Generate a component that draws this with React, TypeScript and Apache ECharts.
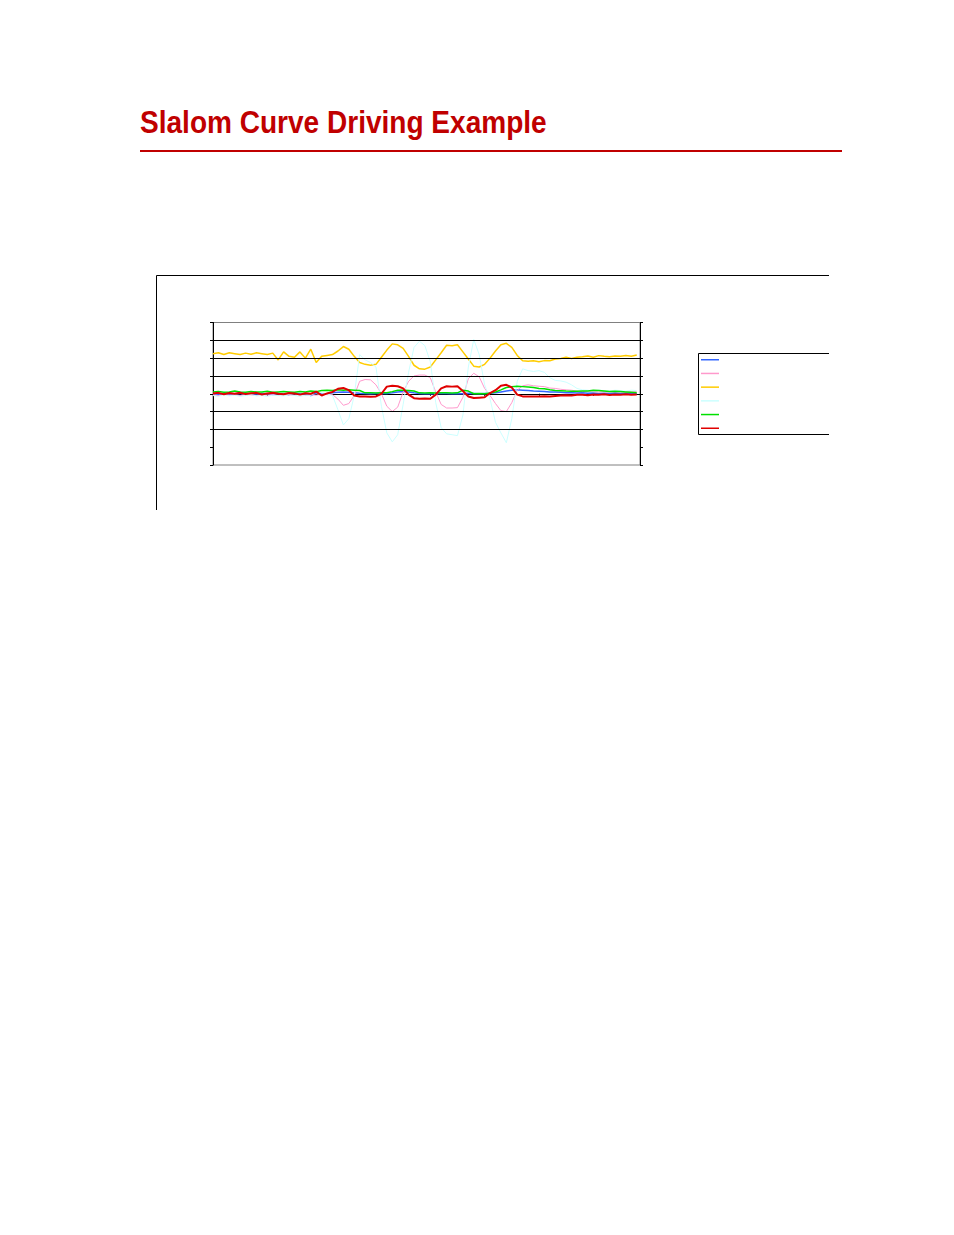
import React, { useEffect, useRef } from 'react';
import * as echarts from 'echarts';

// sample times (s), one every 0.5 s
const TIMES = [
    0, 0.5, 1, 1.5, 2, 2.5, 3, 3.5, 4, 4.5, 5, 5.5, 6, 6.5, 7, 7.5, 8, 8.5, 9, 9.5,
    10, 10.5, 11, 11.5, 12, 12.5, 13, 13.5, 14, 14.5, 15, 15.5, 16, 16.5, 17, 17.5, 18, 18.5, 19, 19.5,
    20, 20.5, 21, 21.5, 22, 22.5, 23, 23.5, 24, 24.5, 25, 25.5, 26, 26.5, 27, 27.5, 28, 28.5, 29, 29.5,
    30, 30.5, 31, 31.5, 32, 32.5, 33, 33.5, 34, 34.5, 35, 35.5, 36, 36.5, 37, 37.5, 38, 38.5, 39
];

const BLUE = [
    0.0, -0.05, 0.02, -0.03, 0.0, 0.03, -0.05, 0.0, -0.02, 0.02, 0.0, -0.04, 0.02, 0.0, -0.05, 0.03, 0.0, -0.02, -0.1, 0.05, 0.0,
    0.02, 0.05, 0.08, 0.1, 0.08, 0.05, 0.03, 0.02, 0.0, 0.02, 0.03, 0.02,
    0.05, 0.1, 0.12, 0.1, 0.05,
    0.02, 0.0, 0.02, 0.0, 0.03, 0.02, 0.0, 0.02, 0.0, 0.03, 0.02, 0.0, 0.02, 0.03, 0.05,
    0.1, 0.15, 0.2, 0.22, 0.2, 0.18, 0.15, 0.14, 0.12, 0.1, 0.1, 0.08,
    0.06, 0.05, 0.04, 0.05, 0.03, 0.04, 0.02, 0.03, 0.02, 0.04, 0.02, 0.03, 0.02, 0.0
];

const PINK = [
    -0.05, -0.1, -0.02, -0.08, -0.05, -0.1, -0.03, -0.06, -0.1, -0.04, -0.08, -0.05, -0.1, -0.02, -0.06, -0.08, -0.04, -0.1, -0.05, -0.08, -0.02, -0.05,
    -0.05, -0.3, -0.65, -0.55, -0.1, 0.7, 0.8, 0.78, 0.5, 0.0, -0.7, -1.0, -0.75, 0.1, 0.7, 1.0, 1.05, 1.05, 0.9, 0.1,
    -0.6, -0.8, -0.8, -0.78, -0.2, 0.85, 1.15, 0.95, 0.3, -0.1, -0.55, -0.95, -1.0, -0.5, 0.2, 0.45, 0.5, 0.45, 0.42, 0.4,
    0.32, 0.3, 0.25, 0.22, 0.2, 0.15, 0.12, 0.15, 0.12, 0.1, 0.12, 0.1, 0.12, 0.1, 0.12, 0.1, 0.12
];

const YELLOW = [
    2.25, 2.3, 2.2, 2.3, 2.25, 2.2, 2.28, 2.22, 2.3, 2.25, 2.2, 2.28,
    1.9, 2.35, 2.1, 2.05, 2.35, 2.0, 2.5, 1.75, 2.1, 2.15, 2.2, 2.4, 2.65,
    2.5, 2.1, 1.75, 1.65, 1.6, 1.65, 2.05, 2.45, 2.8, 2.75, 2.55, 2.1, 1.6, 1.4, 1.38, 1.5, 1.9, 2.3, 2.72, 2.7,
    2.75, 2.35, 1.95, 1.55, 1.5, 1.65, 2.0, 2.4, 2.75, 2.83, 2.6, 2.15, 1.85, 1.82, 1.85, 1.8, 1.86, 1.85, 1.95, 1.98,
    2.05, 1.98, 2.05, 2.08, 2.12, 2.05, 2.14, 2.1, 2.08, 2.12, 2.1, 2.15, 2.1, 2.17
];

const CYAN = [
    -0.1, -0.15, -0.05, -0.12, -0.08, -0.15, -0.1, -0.05, -0.12, -0.1, -0.15, -0.08, -0.1, -0.12, -0.05, -0.1, -0.15, -0.08, -0.1, 0.15, 0.05, 0.0,
    -0.1, -0.9, -1.75, -1.4, -0.1, 2.2, 1.9, 1.75, 1.5, -0.7, -2.2, -2.7, -2.3, -0.6, 1.2, 2.6, 2.95, 2.7, 1.8, -0.5,
    -1.9, -2.25, -2.3, -2.35, -1.2, 1.5, 3.05, 2.2, 0.5, -0.3, -1.6, -2.2, -2.75, -1.4, 0.7, 1.4, 1.3, 1.25, 1.3, 1.2,
    0.9, 0.75, 0.72, 0.65, 0.5, 0.3, 0.22, 0.2, 0.15, 0.2, 0.18, 0.15, 0.2, 0.18, 0.15, 0.2, 0.18
];

const GREEN = [
    0.1, 0.12, 0.08, 0.1, 0.15, 0.1, 0.08, 0.12, 0.1, 0.1, 0.14, 0.08, 0.1, 0.12, 0.1, 0.08, 0.12, 0.1, 0.15, 0.12, 0.18,
    0.2, 0.18, 0.22, 0.2, 0.22, 0.2, 0.18, 0.05, 0.05, 0.04, 0.05, 0.06, 0.12, 0.2, 0.2, 0.18, 0.15, 0.05, 0.04, 0.05,
    0.04, 0.06, 0.05, 0.04, 0.05, 0.2, 0.15, 0.0, 0.02, 0.0, 0.04, 0.1, 0.22, 0.35, 0.4, 0.42, 0.4, 0.38, 0.35, 0.3,
    0.28, 0.22, 0.18, 0.17, 0.15, 0.14, 0.14, 0.15, 0.16, 0.2, 0.18, 0.15, 0.12, 0.14, 0.12, 0.1, 0.08, 0.06
];

const RED = [
    0.02, 0.05, -0.03, 0.04, 0.0, 0.06, -0.02, 0.03, 0.05, -0.04, 0.02, 0.06, 0.0, -0.03, 0.04, 0.02, -0.05, 0.03, 0.0, 0.12, -0.1,
    0.02, 0.1, 0.28, 0.32, 0.2, -0.1, -0.15, -0.15, -0.17, -0.15, 0.0, 0.4, 0.45, 0.42, 0.3, -0.05, -0.25, -0.28, -0.26, -0.28,
    -0.05, 0.3, 0.42, 0.4, 0.42, 0.15, -0.15, -0.24, -0.22, -0.2, 0.04, 0.2, 0.45, 0.5, 0.35, -0.05, -0.15, -0.15, -0.16, -0.15,
    -0.14, -0.15, -0.12, -0.1, -0.08, -0.1, -0.06, -0.05, -0.08, -0.04, -0.06, -0.03, -0.07, -0.04, -0.05, -0.03, -0.06, -0.04
];

const SERIES_NAMES = ['Series 1', 'Series 2', 'Series 3', 'Series 4', 'Series 5', 'Series 6'];
const SERIES_VALUES = [BLUE, PINK, YELLOW, CYAN, GREEN, RED];
const SERIES_COLORS = ['#3366FF', '#FF99CC', '#FFCC00', '#CCFFFF', '#00E000', '#E00000'];
const SERIES_WIDTHS = [1.5, 1, 1.5, 1, 1.5, 2];

// horizontal gridlines drawn in the plot (no line at -3 in the original)
const GRID_VALUES = [3, 2, 1, -1, -2];

const TITLE = 'Slalom Curve Driving Example';

const App: React.FC = () => {
    const chartRef = useRef<HTMLDivElement | null>(null);

    useEffect(() => {
        if (!chartRef.current) return;

        const chart = echarts.init(chartRef.current, null, { renderer: 'svg' });

        const yAxisBase = {
            type: 'value',
            min: -4,
            max: 4,
            interval: 1,
            axisLine: { show: true, onZero: false, lineStyle: { color: '#000', width: 1 } },
            axisTick: { show: true, length: 3, lineStyle: { color: '#000', width: 1 } },
            axisLabel: { show: false },
            splitLine: { show: false }
        };

        const series = SERIES_VALUES.map((values, i) => ({
            name: SERIES_NAMES[i],
            type: 'line',
            yAxisIndex: 0,
            data: TIMES.map((t, j) => [t, values[j]]),
            symbol: 'none',
            lineStyle: { color: SERIES_COLORS[i], width: SERIES_WIDTHS[i] },
            itemStyle: { color: SERIES_COLORS[i] },
            markLine: i === 0 ? {
                silent: true,
                symbol: ['none', 'none'],
                label: { show: false },
                lineStyle: { color: '#000', width: 1, type: 'solid' },
                data: GRID_VALUES.map(v => ({ yAxis: v }))
            } : undefined
        }));

        const option = {
            animation: false,
            backgroundColor: '#fff',
            legend: {
                orient: 'vertical',
                left: 701,
                top: 359,
                padding: 0,
                icon: 'rect',
                itemWidth: 18,
                itemHeight: 1.5,
                itemGap: 12.2,
                formatter: () => '',
                textStyle: { fontSize: 1, lineHeight: 1 },
                data: SERIES_NAMES
            },
            grid: {
                left: 213,
                top: 322.5,
                width: 427,
                height: 142.5,
                show: true,
                borderColor: '#808080',
                borderWidth: 1
            },
            xAxis: {
                type: 'value',
                min: 0,
                max: 39.3,
                interval: 5,
                axisLine: { show: true, onZero: true, lineStyle: { color: '#000', width: 1 } },
                axisTick: { show: true, length: 2, lineStyle: { color: '#000', width: 1 } },
                axisLabel: { show: false },
                splitLine: { show: false }
            },
            yAxis: [
                { ...yAxisBase, position: 'left' },
                { ...yAxisBase, position: 'right' }
            ],
            graphic: [
                {
                    type: 'text',
                    x: 140,
                    y: 121.5,
                    scaleX: 0.905,
                    style: {
                        text: TITLE,
                        font: 'bold 31px "Liberation Sans", Arial, sans-serif',
                        fill: '#C00000',
                        textVerticalAlign: 'middle',
                        verticalAlign: 'middle'
                    }
                },
                {
                    type: 'line',
                    shape: { x1: 140, y1: 151, x2: 842, y2: 151 },
                    style: { stroke: '#C00000', lineWidth: 2 }
                },
                {
                    type: 'polyline',
                    shape: { points: [[156.5, 510], [156.5, 275.5], [829, 275.5]] },
                    style: { stroke: '#000', fill: 'none', lineWidth: 1 }
                },
                {
                    type: 'polyline',
                    shape: { points: [[829, 353.5], [698.5, 353.5], [698.5, 434.5], [829, 434.5]] },
                    style: { stroke: '#000', fill: 'none', lineWidth: 1 }
                }
            ],
            series
        };

        chart.setOption(option);

        return () => {
            chart.dispose();
        };
    }, []);

    return (
        <div
            ref={chartRef}
            style={{ position: 'absolute', left: 0, top: 0, width: 954, height: 1235 }}
        />
    );
};

export default App;
